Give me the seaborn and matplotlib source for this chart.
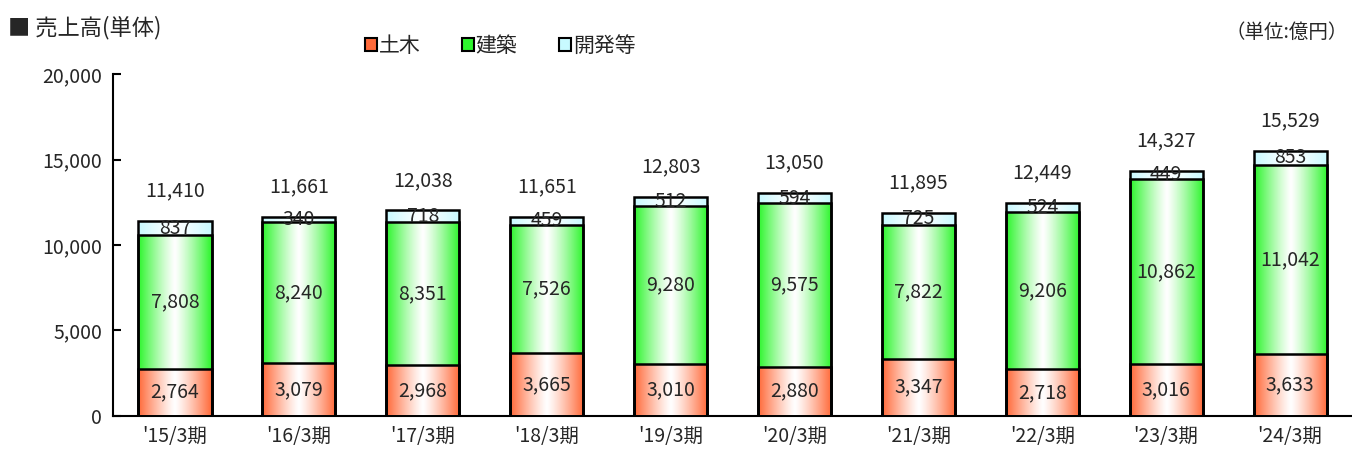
import numpy as np
import pandas as pd
import matplotlib
matplotlib.use("Agg")
import matplotlib.pyplot as plt
from matplotlib.colors import to_rgb
from matplotlib.patches import Rectangle
import seaborn as sns

# データ（億円）
periods = ["'15/3期", "'16/3期", "'17/3期", "'18/3期", "'19/3期",
           "'20/3期", "'21/3期", "'22/3期", "'23/3期", "'24/3期"]
doboku = [2764, 3079, 2968, 3665, 3010, 2880, 3347, 2718, 3016, 3633]
kenchiku = [7808, 8240, 8351, 7526, 9280, 9575, 7822, 9206, 10862, 11042]
kaihatsu = [837, 340, 718, 459, 512, 594, 725, 524, 449, 853]
totals = [11410, 11661, 12038, 11651, 12803, 13050, 11895, 12449, 14327, 15529]

series_names = ["土木", "建築", "開発等"]
colors = ["#FF6A3A", "#2EF52E", "#C8FAFF"]

sns.set_theme(style="white")
plt.rcParams['font.family'] = ['Noto Sans CJK JP', 'DejaVu Sans']

fig = plt.figure(figsize=(13.52, 4.58), dpi=100)
ax = fig.add_axes([0.0836, 0.092, 0.9164, 0.746])

df = pd.DataFrame({"period": periods, "doboku": doboku,
                   "kenchiku": kenchiku, "kaihatsu": kaihatsu})
df["c1"] = df["doboku"]
df["c2"] = df["doboku"] + df["kenchiku"]
df["c3"] = df["c2"] + df["kaihatsu"]

bar_w = 0.59


def gradient_img(color, n=64):
    c = np.array(to_rgb(color))
    t = np.abs(np.linspace(-1, 1, n)) ** 1.2  # 端=色, 中央=白
    arr = 1 - t[:, None] * (1 - c[None, :])
    return arr[None, :, :]


# 後ろ（合計）から順に重ねて描く
layers = [("c3", colors[2]), ("c2", colors[1]), ("c1", colors[0])]
for i, (col, color) in enumerate(layers):
    n_before = len(ax.patches)
    sns.barplot(data=df, x="period", y=col, color=color, width=bar_w,
                ax=ax, saturation=1, edgecolor="black", linewidth=1.8)
    img = gradient_img(color)
    for p in ax.patches[n_before:]:
        p.set_facecolor("none")
        p.set_zorder(10)
        x0, y0 = p.get_x(), p.get_y()
        w, h = p.get_width(), p.get_height()
        im = ax.imshow(img, extent=[x0, x0 + w, y0, y0 + h], aspect="auto",
                       zorder=2 + i, interpolation="bilinear")
        im.set_clip_path(p)

ax.set_xlim(-0.5, len(periods) - 0.5)
ax.set_ylim(0, 20000)
ax.set_xlabel("")
ax.set_ylabel("")

fs = 14
for i in range(len(periods)):
    ax.text(i, doboku[i] / 2, f"{doboku[i]:,}", ha="center", va="center", fontsize=fs, zorder=20)
    ax.text(i, doboku[i] + kenchiku[i] / 2, f"{kenchiku[i]:,}", ha="center", va="center", fontsize=fs, zorder=20)
    ax.text(i, doboku[i] + kenchiku[i] + kaihatsu[i] / 2, f"{kaihatsu[i]:,}", ha="center", va="center", fontsize=fs, zorder=20)
    ax.text(i, totals[i] + 1750, f"{totals[i]:,}", ha="center", va="center", fontsize=fs, zorder=20)

# 軸
ax.set_yticks([0, 5000, 10000, 15000, 20000])
ax.set_yticklabels(["0", "5,000", "10,000", "15,000", "20,000"], fontsize=fs)
ax.set_xticks(range(len(periods)))
ax.set_xticklabels(periods, fontsize=fs)
ax.set_xticks(np.arange(-0.5, len(periods) + 0.5, 1), minor=True)
ax.tick_params(axis="x", which="major", length=0, pad=7)
ax.tick_params(axis="x", which="minor", direction="in", length=6, width=1.5, color="black")
ax.tick_params(axis="y", direction="in", length=6, width=1.5, color="black", left=True, pad=8)
for s in ["top", "right"]:
    ax.spines[s].set_visible(False)
for s in ["left", "bottom"]:
    ax.spines[s].set_color("black")
    ax.spines[s].set_linewidth(1.5)

# タイトル・単位
fig.text(0.006, 0.94, "■ 売上高(単体)", fontsize=16, va="center", ha="left")
fig.text(0.997, 0.93, "（単位:億円）", fontsize=14, va="center", ha="right")

handles = [Rectangle((0, 0), 1, 1, facecolor=c, edgecolor="black", linewidth=1.5) for c in colors]
fig.legend(handles, series_names, loc="center", bbox_to_anchor=(0.37, 0.9), ncol=3,
           frameon=False, fontsize=15, handlelength=0.55, handleheight=0.55,
           handletextpad=0.1, columnspacing=2.0)

fig.savefig("out.png", dpi=100)
